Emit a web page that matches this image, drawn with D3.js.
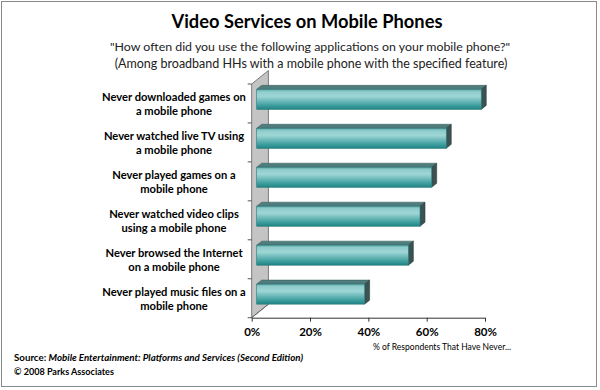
<!DOCTYPE html>
<html>
<head>
<meta charset="utf-8">
<script src="https://cdn.jsdelivr.net/npm/d3@7"></script>
<style>
  body { margin: 0; background: #fff; }
  text { font-family: Lato, "Open Sans", sans-serif; fill: #000; }
</style>
</head>
<body>
<svg id="chart" width="600" height="390"></svg>
<script>
// data
var categories = [
    ["Never downloaded games on", "a mobile phone"],
    ["Never watched live TV using", "a mobile phone"],
    ["Never played games on a", "mobile phone"],
    ["Never watched video clips", "using a mobile phone"],
    ["Never browsed the Internet", "on a mobile phone"],
    ["Never played music files on a", "mobile phone"]
];
var values = [0.77, 0.65, 0.60, 0.56, 0.52, 0.37];
var tickValues = [0, 0.2, 0.4, 0.6, 0.8];
var tickLabels = ["0%", "20%", "40%", "60%", "80%"];

var svg = d3.select("#chart");

// fit a text element to a width by changing font size
function fit(sel, w) {
    var fs = parseFloat(sel.style("font-size"));
    var len = sel.node().getComputedTextLength();
    sel.style("font-size", (fs * w / len).toFixed(2) + "px");
    return sel;
}

// frame
svg.append("rect")
    .attr("x", 1.5).attr("y", 1.5)
    .attr("width", 595).attr("height", 385)
    .attr("fill", "none")
    .attr("stroke", "#8a8a8a");

// titles
fit(svg.append("text")
    .attr("x", 307).attr("y", 28)
    .attr("text-anchor", "middle")
    .style("font-size", "17px").style("font-weight", "bold")
    .text("Video Services on Mobile Phones"), 271);

fit(svg.append("text")
    .attr("x", 310).attr("y", 51)
    .attr("text-anchor", "middle")
    .style("font-size", "13px").style("fill", "#222")
    .text("\"How often did you use the following applications on your mobile phone?\""), 400);

fit(svg.append("text")
    .attr("x", 311).attr("y", 68)
    .attr("text-anchor", "middle")
    .style("font-size", "13px").style("fill", "#222")
    .text("(Among broadband HHs with a mobile phone with the specified feature)"), 393);

// scales
var x = d3.scaleLinear().domain([0, 0.8]).range([251.7, 485]);
var y = d3.scaleBand().domain(d3.range(categories.length)).range([84, 317.7]);

var wallD = {x: 16.7, y: -13.5};   // depth of the side wall
var barD = {x: 5, y: -4.1};        // offset of bar front face
var barDepth = {x: 5, y: -4};      // bar thickness in depth
var barH = y.bandwidth() * 0.515;

var defs = svg.append("defs");
var grad = defs.append("linearGradient")
    .attr("id", "front").attr("x1", 0).attr("y1", 0).attr("x2", 0).attr("y2", 1);
grad.append("stop").attr("offset", "0%").attr("stop-color", "#5fa8a8");
grad.append("stop").attr("offset", "12%").attr("stop-color", "#8fcccc");
grad.append("stop").attr("offset", "35%").attr("stop-color", "#9fd6d6");
grad.append("stop").attr("offset", "80%").attr("stop-color", "#3e9e9e");
grad.append("stop").attr("offset", "100%").attr("stop-color", "#1f8484");

// side wall
var y0 = y.range()[0], y1 = y.range()[1], xl = x(0);
svg.append("path")
    .attr("d", "M" + xl + "," + y1 + "L" + xl + "," + y0 +
        "L" + (xl + wallD.x) + "," + (y0 + wallD.y) +
        "L" + (xl + wallD.x) + "," + (y1 + wallD.y) + "Z")
    .attr("fill", "#c4c4c4")
    .attr("stroke", "#7a7a7a")
    .attr("stroke-width", 1);

// category ticks on the wall edge
var bounds = categories.map(function(d, i) { return y(i); }).concat([y1]);
svg.selectAll(".ytick")
    .data(bounds)
    .enter().append("line")
    .attr("x1", xl - 4).attr("x2", xl)
    .attr("y1", function(d) { return d; })
    .attr("y2", function(d) { return d; })
    .attr("stroke", "#555");

// bars
var bars = svg.selectAll(".bar")
    .data(values)
    .enter().append("g")
    .attr("class", "bar");

function fy(i) { return y(i) + (y.bandwidth() - barH) / 2 + barD.y; }
function fx0() { return x(0) + barD.x; }
function fx1(d) { return x(d) + barD.x; }

// top face
bars.append("path")
    .attr("d", function(d, i) {
        var t = fy(i);
        return "M" + fx0() + "," + t + "L" + (fx0() + barDepth.x) + "," + (t + barDepth.y) +
            "L" + (fx1(d) + barDepth.x) + "," + (t + barDepth.y) + "L" + fx1(d) + "," + t + "Z";
    })
    .attr("fill", "#4f7c7c")
    .attr("stroke", "#3c6262").attr("stroke-width", 0.6);

// side face
bars.append("path")
    .attr("d", function(d, i) {
        var t = fy(i), b = t + barH;
        return "M" + fx1(d) + "," + t + "L" + (fx1(d) + barDepth.x) + "," + (t + barDepth.y) +
            "L" + (fx1(d) + barDepth.x) + "," + (b + barDepth.y) + "L" + fx1(d) + "," + b + "Z";
    })
    .attr("fill", "#3a5252")
    .attr("stroke", "#2c4040").attr("stroke-width", 0.6);

// front face
bars.append("rect")
    .attr("x", fx0())
    .attr("y", function(d, i) { return fy(i); })
    .attr("width", function(d) { return fx1(d) - fx0(); })
    .attr("height", barH)
    .attr("fill", "url(#front)")
    .attr("stroke", "#2a7a7a").attr("stroke-width", 0.6);

// wall bottom diagonal drawn over
svg.append("line")
    .attr("x1", xl).attr("y1", y1)
    .attr("x2", xl + wallD.x).attr("y2", y1 + wallD.y)
    .attr("stroke", "#6a6a6a");

// category labels
var labels = svg.selectAll(".cat")
    .data(categories)
    .enter().append("text")
    .attr("class", "cat")
    .attr("text-anchor", "middle")
    .style("font-size", "11px").style("font-weight", "bold");
labels.each(function(lines, i) {
    var c = y(i) + y.bandwidth() / 2;
    d3.select(this).selectAll("tspan")
        .data(lines)
        .enter().append("tspan")
        .attr("x", 174)
        .attr("y", function(l, j) { return c - 2.7 + j * 14.4; })
        .text(function(l) { return l; });
});
// scale label font so the longest line is about 144px wide
var widest = 0;
labels.selectAll("tspan").each(function() {
    widest = Math.max(widest, this.getComputedTextLength());
});
labels.style("font-size", (11 * 144 / widest).toFixed(2) + "px");

// value axis
var xAxis = d3.axisBottom(x)
    .tickValues(tickValues)
    .tickFormat(function(d, i) { return tickLabels[i]; })
    .tickSize(4)
    .tickSizeOuter(0)
    .tickPadding(6);

var gx = svg.append("g")
    .attr("transform", "translate(0," + y1 + ")")
    .call(xAxis);
gx.select(".domain").attr("stroke", "#333");
gx.selectAll(".tick line").attr("stroke", "#333");
gx.selectAll("text")
    .style("font-family", "Lato, sans-serif")
    .style("font-size", "11.5px").style("font-weight", "bold");

fit(svg.append("text")
    .attr("x", 442).attr("y", 350)
    .attr("text-anchor", "middle")
    .style("font-size", "10px")
    .text("% of Respondents That Have Never..."), 138);

// source
var src = svg.append("text")
    .attr("x", 14).attr("y", 361)
    .style("font-size", "9.5px").style("font-weight", "bold");
src.append("tspan").text("Source:  ");
src.append("tspan").style("font-style", "italic")
    .text("Mobile Entertainment: Platforms and Services (Second Edition)");
fit(src, 289);

fit(svg.append("text")
    .attr("x", 14).attr("y", 375)
    .style("font-size", "9.5px").style("font-weight", "bold")
    .text("\u00a9 2008 Parks Associates"), 100);
</script>
</body>
</html>
